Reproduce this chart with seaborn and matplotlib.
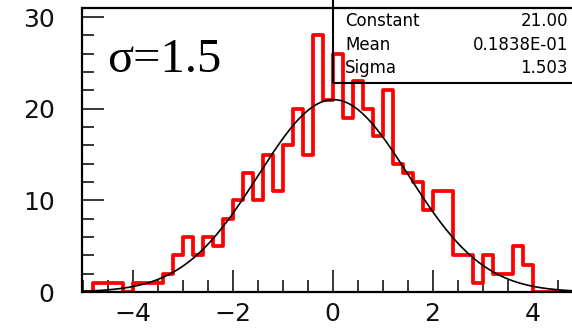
import numpy as np
import pandas as pd
import matplotlib
matplotlib.use("Agg")
import matplotlib.pyplot as plt
from matplotlib.ticker import MultipleLocator
from matplotlib.patches import Rectangle
import seaborn as sns

# ---- data ----
bin_lo, bin_hi, n_bins = -5.0, 5.0, 50
counts = [0, 1, 1, 1, 0, 1, 1, 1, 2, 4, 6, 4, 6, 5, 8, 10, 13,
          10, 15, 11, 16, 20, 15, 28, 21, 26, 19, 23, 20, 17, 22, 14, 13, 12,
          9, 11, 11, 4, 4, 1, 4, 2, 2, 5, 3, 0, 0, 0, 0, 0]
fit_constant = 21.00
fit_mean = 0.01838
fit_sigma = 1.503
stat_names = ["Constant", "Mean", "Sigma"]
stat_values = ["21.00", "0.1838E-01", "1.503"]
label_text = "σ=1.5"

sns.set_style("ticks")
plt.rcParams['font.family'] = ['DejaVu Sans']

edges = np.linspace(bin_lo, bin_hi, n_bins + 1)
centers = (edges[:-1] + edges[1:]) / 2
hist_df = pd.DataFrame({"x": centers, "w": np.asarray(counts, dtype=float)})

xs = np.linspace(bin_lo, bin_hi, 500)
fit_df = pd.DataFrame({"x": xs,
                       "y": fit_constant * np.exp(-0.5 * ((xs - fit_mean) / fit_sigma) ** 2)})

fig = plt.figure(figsize=(5.72, 3.31), dpi=100)
ax = fig.add_axes([82.5 / 572, 39 / 331, 500 / 572, 284 / 331])

sns.histplot(data=hist_df, x="x", weights="w", bins=n_bins, binrange=(bin_lo, bin_hi),
             element="step", fill=False, color="#ff0000", linewidth=2.7, ax=ax)
sns.lineplot(data=fit_df, x="x", y="y", color="black", linewidth=1.2, ax=ax)

ax.set_xlim(-5, 5)
ax.set_ylim(0, 31)
ax.set_xlabel("")
ax.set_ylabel("")

ax.xaxis.set_major_locator(MultipleLocator(2))
ax.xaxis.set_minor_locator(MultipleLocator(0.5))
ax.yaxis.set_major_locator(MultipleLocator(10))
ax.yaxis.set_minor_locator(MultipleLocator(2))
ax.tick_params(which="both", direction="in", top=False, right=False,
               color="black", width=1.1, labelsize=18, labelcolor="#111111")
ax.tick_params(which="major", length=16)
ax.tick_params(which="minor", length=8.5)
ax.tick_params(axis="x", pad=7)
ax.tick_params(axis="y", pad=20)

for s in ax.spines.values():
    s.set_visible(True)
    s.set_linewidth(1.6)
    s.set_color("black")

# stats box
ax.add_patch(Rectangle((0.501, 0.736), 0.6, 0.4, transform=ax.transAxes,
                       fill=False, edgecolor="black", linewidth=1.5, clip_on=False,
                       zorder=5))
ys = [0.954, 0.870, 0.789]
for name, val, yy in zip(stat_names, stat_values, ys):
    ax.text(0.525, yy, name, transform=ax.transAxes, ha="left", va="center",
            fontsize=12, color="black", zorder=6)
    ax.text(0.971, yy, val, transform=ax.transAxes, ha="right", va="center",
            fontsize=12, color="black", zorder=6)

ax.text(0.049, 0.775, label_text, transform=ax.transAxes, ha="left", va="baseline",
        fontsize=35, family=["Liberation Serif", "DejaVu Serif"], color="black")

fig.savefig("out.png", dpi=100)
